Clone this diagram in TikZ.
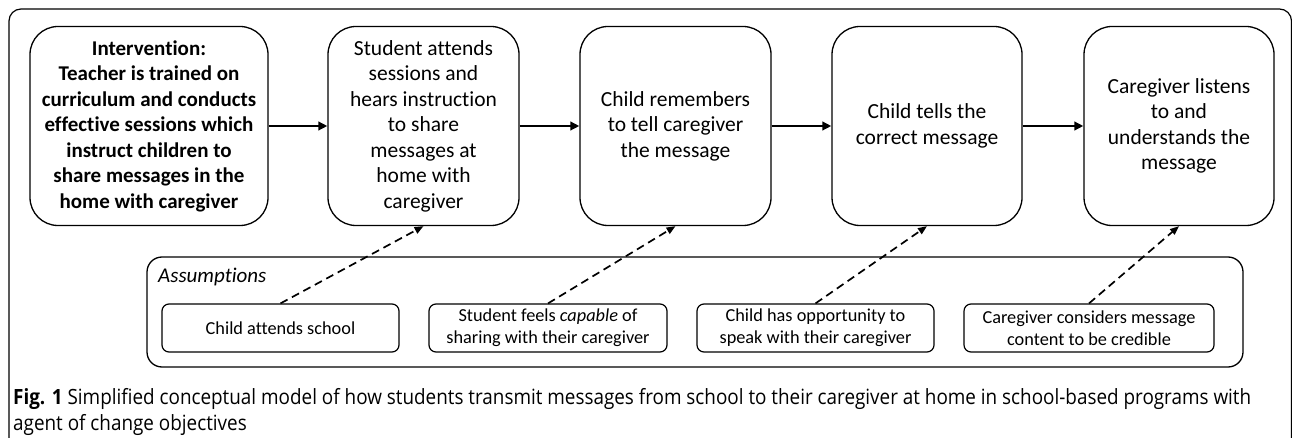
\documentclass[tikz,border=0pt]{standalone}
\usepackage{fontspec}
\setmainfont{Carlito}[Ligatures=NoCommon]
\newfontfamily\capfont{Open Sans}
\usetikzlibrary{arrows.meta}
\newsavebox\capone
\newsavebox\captwo
\newlength\capw
\begin{document}
\sbox{\capone}{\capfont\fontsize{21}{26}\selectfont\textbf{Fig. 1} Simplified conceptual model of how students transmit messages from school to their caregiver at home in school-based programs with}%
\sbox{\captwo}{\capfont\fontsize{21}{26}\selectfont agent of change objectives}%
\setlength\capw{\wd\capone}%
\pgfmathsetmacro\capfac{1238/\capw}%
\begin{tikzpicture}[x=1pt,y=-1pt,
  stage/.style={draw, line width=1.3pt, rounded corners=28pt, minimum width=#1,
    minimum height=199pt, align=center, inner sep=0pt,
    font=\fontsize{21.5}{25.5}\selectfont},
  assume/.style={draw, line width=1.2pt, rounded corners=7pt, minimum width=#1,
    minimum height=48pt, align=center, inner sep=0pt,
    font=\fontsize{18.3}{22}\selectfont},
  flow/.style={line width=2.7pt, -{Triangle[length=9pt,width=8.5pt]}},
  link/.style={line width=1.7pt, dash pattern=on 8pt off 5pt,
    -{Triangle[length=9pt,width=7pt]}},
  frame/.style={draw, line width=1.2pt}
]
\clip (0,0) rectangle (1292,438);
\useasboundingbox (0,0) rectangle (1292,438);
\fill[white] (0,0) rectangle (1292,438);
% outer frame
\draw[frame, rounded corners=12pt] (9,9) rectangle (1291.5,460);

% stages
\node[stage=238pt, font=\bfseries\fontsize{21}{25.5}\selectfont] (s1) at (149,126)
  {Intervention:\\Teacher is trained on\\curriculum and conducts\\effective sessions which\\instruct children to\\share messages in the\\home with caregiver};
\node[stage=191pt] (s2) at (423.5,126)
  {Student attends\\sessions and\\hears instruction\\to share\\messages at\\home with\\caregiver};
\node[stage=191pt] (s3) at (675.5,126)
  {Child remembers\\to tell caregiver\\the message};
\node[stage=190pt] (s4) at (927,126)
  {Child tells the\\correct message};
\node[stage=190pt] (s5) at (1179,126)
  {Caregiver listens\\to and\\understands the\\message};

\draw[flow] (s1) -- (s2);
\draw[flow] (s2) -- (s3);
\draw[flow] (s3) -- (s4);
\draw[flow] (s4) -- (s5);

% assumptions
\draw[frame, line width=1.3pt, rounded corners=15pt] (147,257) rectangle (1243,367);
\node[anchor=base west, inner sep=0pt, font=\itshape\fontsize{21}{25}\selectfont] (alabel) at (158,283) {Assumptions};

\node[assume=237pt] (a1) at (280.5,328) {Child attends school};
\node[assume=238pt] (a2) at (548,328) {Student feels \textit{capable} of\\sharing with their caregiver};
\node[assume=237pt] (a3) at (815.5,328) {Child has opportunity to\\speak with their caregiver};
\node[assume=250pt] (a4) at (1089,328) {Caregiver considers message\\content to be credible};

\draw[link] (a1.north) -- (s2.south);
\draw[link] (a2.north) -- (s3.south);
\draw[link] (a3.north) -- (s4.south);
\draw[link] (a4.north) -- (s5.south);

% caption
\node[anchor=base west, inner sep=0pt, text=black!78] (cap1) at (13,404) {\scalebox{\capfac}[1]{\usebox\capone}};
\node[anchor=base west, inner sep=0pt, text=black!78] (cap2) at (13,430) {\scalebox{\capfac}[1]{\usebox\captwo}};
\end{tikzpicture}
\end{document}
